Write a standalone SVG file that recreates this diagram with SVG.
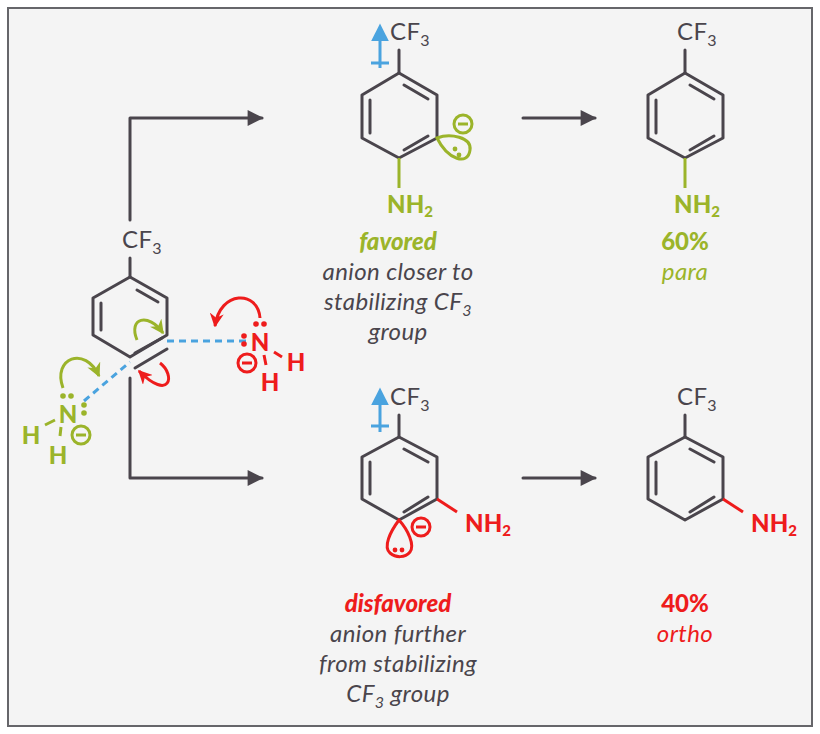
<svg xmlns="http://www.w3.org/2000/svg" width="820" height="734" viewBox="0 0 820 734">
<style>
.b{stroke:#4a454c;stroke-width:3;fill:none;stroke-linecap:round;stroke-linejoin:round}
.t{font-family:Lato,"Open Sans",sans-serif;font-size:24px;fill:#4a454c;text-anchor:middle;font-weight:400;letter-spacing:0.4px}
.i{font-style:italic}
.g{fill:#9bb42a}.r{fill:#ee1c1c}
.bd{font-weight:900;letter-spacing:0}
.gs{stroke:#9bb42a;stroke-width:3;fill:none}
.rs{stroke:#ee1c1c;stroke-width:3;fill:none}
.bl{stroke:#4aa3df;stroke-width:3;fill:none}
.dash{stroke:#4aa3df;stroke-width:3;stroke-dasharray:7 5;fill:none}
</style>
<defs>
<marker id="ah2" viewBox="0 0 10 10" refX="9" refY="5" markerWidth="26" markerHeight="16" orient="auto" markerUnits="userSpaceOnUse"><path d="M0,0L10,5L0,10z" fill="#4a454c"/></marker>
<marker id="ga" viewBox="0 0 10 10" refX="9" refY="5" markerWidth="14" markerHeight="14" orient="auto" markerUnits="userSpaceOnUse"><path d="M0,0L10,5L0,10L3,5z" fill="#9bb42a"/></marker>
<marker id="ra" viewBox="0 0 10 10" refX="9" refY="5" markerWidth="14" markerHeight="14" orient="auto" markerUnits="userSpaceOnUse"><path d="M0,0L10,5L0,10L3,5z" fill="#ee1c1c"/></marker>
<marker id="ba" viewBox="0 0 10 10" refX="3" refY="5" markerWidth="18" markerHeight="18" orient="auto" markerUnits="userSpaceOnUse"><path d="M0,0L10,5L0,10z" fill="#4aa3df"/></marker>
</defs>
<rect x="8" y="8" width="804" height="718" fill="#f4f4f4" stroke="#66666a" stroke-width="2"/>

<g id="connectors">
<path class="b" d="M130,220V118H262" marker-end="url(#ah2)"/>
<path class="b" d="M130,378V478H262" marker-end="url(#ah2)"/>
<path class="b" d="M523,118H595" marker-end="url(#ah2)"/>
<path class="b" d="M523,478H595" marker-end="url(#ah2)"/>
</g>

<g id="benzyne">
<text class="t" x="142" y="248">CF<tspan font-size="16" dy="6">3</tspan></text>
<path class="b" d="M130,258V277"/>
<path class="b" d="M130,277L167,298V335L130,357L93,335V298Z"/>
<path class="b" d="M137,290L158,302M101,303V330M135,353L162,338M135,368L167,349"/>
<path class="dash" d="M84,401L130,362"/>
<path class="dash" d="M167,341H247"/>
<path class="gs" d="M63,388C52,358 85,345 99,376" marker-end="url(#ga)"/>
<path class="gs" d="M137,340C128,318 148,312 163,333" marker-end="url(#ga)"/>
<path class="rs" d="M260,318C258,290 220,290 215,326" marker-end="url(#ra)"/>
<path class="rs" d="M160,363C176,375 170,402 139,371" marker-end="url(#ra)"/>
</g>

<g id="nh2-green">
<text class="t g bd" x="68" y="423">N</text>
<circle cx="63" cy="396" r="2.8" class="g"/><circle cx="71" cy="396" r="2.8" class="g"/>
<circle cx="84" cy="405" r="2.8" class="g"/><circle cx="84" cy="413" r="2.8" class="g"/>
<text class="t g bd" x="31" y="444">H</text><text class="t g bd" x="58" y="464">H</text>
<path class="gs" d="M45,425L55,420M61,427L60,436"/>
<circle cx="81" cy="435" r="9" class="gs"/><path class="gs" d="M76,435H86"/>
</g>

<g id="nh2-red">
<text class="t r bd" x="260" y="351">N</text>
<circle cx="256" cy="324" r="2.8" class="r"/><circle cx="264" cy="324" r="2.8" class="r"/>
<circle cx="244" cy="336" r="2.8" class="r"/><circle cx="244" cy="344" r="2.8" class="r"/>
<text class="t r bd" x="296" y="371">H</text><text class="t r bd" x="270" y="391">H</text>
<path class="rs" d="M274,352L282,357M264,355L266,365"/>
<circle cx="247" cy="363" r="9" class="rs"/><path class="rs" d="M242,363H252"/>
</g>

<g id="int-para">
<text class="t" x="410" y="40">CF<tspan font-size="16" dy="6">3</tspan></text>
<path class="b" d="M399,50V73"/>
<path class="b" d="M399,73L437,95V138L399,158L362,138V95Z"/>
<path class="b" d="M404,85L428,99M370,100V133M404,150L428,136"/>
<path class="bl" d="M380,68V36" marker-end="url(#ba)"/><path class="bl" d="M371,63H389"/>
<path d="M399,158V188" stroke="#9bb42a" stroke-width="3"/>
<text class="t g bd" x="410" y="213">NH<tspan font-size="15" dy="4">2</tspan></text>
<path class="gs" d="M437,138C450,133 472,137 470,150C468,166 448,160 437,138Z"/>
<circle cx="455" cy="149" r="2.4" class="g"/><circle cx="459" cy="155" r="2.4" class="g"/>
<circle cx="463" cy="124" r="9" class="gs"/><path class="gs" d="M458,124H468"/>
</g>

<g id="int-ortho">
<text class="t" x="410" y="405">CF<tspan font-size="16" dy="6">3</tspan></text>
<path class="b" d="M399,415V437"/>
<path class="b" d="M399,437L437,457V499L399,520L362,499V457Z"/>
<path class="b" d="M404,449L428,462M370,462V494M404,512L428,497"/>
<path class="bl" d="M380,432V400" marker-end="url(#ba)"/><path class="bl" d="M371,426H389"/>
<path d="M437,499L457,512" stroke="#ee1c1c" stroke-width="3"/>
<text class="t r bd" x="488" y="532">NH<tspan font-size="15" dy="4">2</tspan></text>
<path class="rs" d="M399,520C390,532 383,547 390,553C396,558 405,558 410,552C415,545 408,530 399,520Z"/>
<circle cx="395" cy="550" r="2.4" class="r"/><circle cx="402" cy="550" r="2.4" class="r"/>
<circle cx="421" cy="527" r="9" class="rs"/><path class="rs" d="M416,527H426"/>
</g>

<g id="prod-para">
<text class="t" x="697" y="40">CF<tspan font-size="16" dy="6">3</tspan></text>
<path class="b" d="M685,50V73"/>
<path class="b" d="M685,73L723,95V138L685,158L648,138V95Z"/>
<path class="b" d="M690,85L714,99M656,100V133M690,150L714,136"/>
<path d="M685,158V188" stroke="#9bb42a" stroke-width="3"/>
<text class="t g bd" x="697" y="213">NH<tspan font-size="15" dy="4">2</tspan></text>
</g>

<g id="prod-ortho">
<text class="t" x="697" y="405">CF<tspan font-size="16" dy="6">3</tspan></text>
<path class="b" d="M685,415V437"/>
<path class="b" d="M685,437L723,457V499L685,520L648,499V457Z"/>
<path class="b" d="M690,449L714,462M656,462V494M690,512L714,497"/>
<path d="M723,499L743,512" stroke="#ee1c1c" stroke-width="3"/>
<text class="t r bd" x="774" y="532">NH<tspan font-size="15" dy="4">2</tspan></text>
</g>

<g id="labels">
<text class="t g bd i" x="398" y="250">favored</text>
<text class="t i" x="398" y="280">anion closer to</text>
<text class="t i" x="398" y="310">stabilizing CF<tspan font-size="16" dy="6">3</tspan></text>
<text class="t i" x="398" y="340">group</text>
<text class="t g bd" x="685" y="250">60%</text>
<text class="t g i" x="685" y="280">para</text>
<text class="t r bd i" x="398" y="612">disfavored</text>
<text class="t i" x="398" y="642">anion further</text>
<text class="t i" x="398" y="672">from stabilizing</text>
<text class="t i" x="398" y="702">CF<tspan font-size="16" dy="6">3</tspan><tspan dy="-6"> group</tspan></text>
<text class="t r bd" x="685" y="612">40%</text>
<text class="t r i" x="685" y="642">ortho</text>
</g>
</svg>
